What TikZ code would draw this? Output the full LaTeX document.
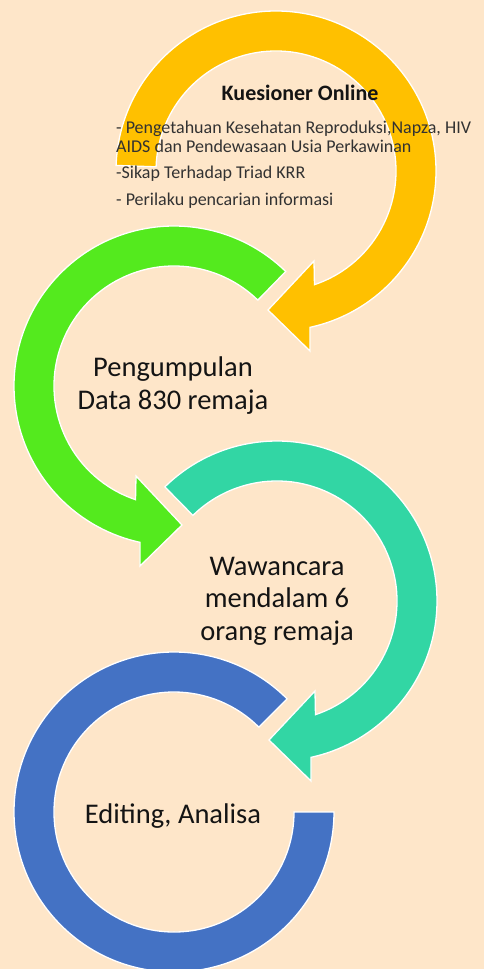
\documentclass[tikz,border=0pt]{standalone}
\usepackage{fontspec}
\setmainfont{Carlito}
\definecolor{bgpeach}{RGB}{254,230,201}
\definecolor{ringyellow}{RGB}{255,192,0}
\definecolor{ringgreen}{RGB}{84,234,30}
\definecolor{ringteal}{RGB}{50,214,164}
\definecolor{ringblue}{RGB}{68,114,196}
\definecolor{inktext}{RGB}{20,20,20}
\definecolor{inksoft}{RGB}{50,50,50}
\tikzset{
  ring/.style={draw=white, line width=1.3pt, line join=miter},
  biglabel/.style={font=\fontsize{28.5}{32.5}\selectfont, text=inktext, align=center, inner sep=0pt},
}
\begin{document}
\begin{tikzpicture}[x=1pt, y=-1pt]
  % page and background
  \fill[bgpeach] (0,0) rectangle (484,969);
  \useasboundingbox (0,0) rectangle (484,969);

  % yellow arrow: clockwise, head at the bottom pointing left
  \begin{scope}[shift={(276,171)}]
    \fill[ringyellow, ring] (182:160) arc[start angle=182, end angle=437.7, radius=160]
      -- (34,180) -- (-8,139) -- (38,90) -- (431.3:120)
      arc[start angle=431.3, end angle=182, radius=120] -- cycle;
  \end{scope}

  % green arrow: counter-clockwise, head at the bottom pointing right
  \begin{scope}[shift={(174,386)}]
    \fill[ringgreen, ring] (314.3:160) arc[start angle=314.3, end angle=102.3, radius=160]
      -- (-34,180) -- (8,139) -- (-38,90) -- (108.7:120)
      arc[start angle=108.7, end angle=314.3, radius=120] -- cycle;
  \end{scope}

  % teal arrow: clockwise, head at the bottom pointing left
  \begin{scope}[shift={(277,601)}]
    \fill[ringteal, ring] (225.5:160) arc[start angle=225.5, end angle=437.7, radius=160]
      -- (34,180) -- (-8,139) -- (38,90) -- (431.3:120)
      arc[start angle=431.3, end angle=225.5, radius=120] -- cycle;
  \end{scope}

  % blue open ring without a head
  \begin{scope}[shift={(174,812)}]
    \fill[ringblue, ring] (315:160) arc[start angle=315, end angle=0, radius=160]
      -- (0:120) arc[start angle=0, end angle=315, radius=120] -- cycle;
  \end{scope}

  % labels (anchor=base refers to the last line of a multi-line node)
  \node[font=\fontsize{22}{25}\selectfont\bfseries, text=inktext, anchor=base, inner sep=0pt]
    (kuesioner) at (300,100) {Kuesioner Online};
  \node[font=\fontsize{18}{19}\selectfont, text=inksoft, align=left, anchor=base west, inner sep=0pt]
    (items) at (116,205) {- Pengetahuan Kesehatan Reproduksi,Napza, HIV\\
      AIDS dan Pendewasaan Usia Perkawinan\\[7pt]
      -Sikap Terhadap Triad KRR\\[8pt]
      - Perilaku pencarian informasi};

  \node[biglabel, anchor=base] (pengumpulan) at (173,409) {Pengumpulan\\Data 830 remaja};
  \node[biglabel, anchor=base] (wawancara) at (277,640) {Wawancara\\mendalam 6\\orang remaja};
  \node[biglabel, anchor=base] (editing) at (173,823) {Editing, Analisa};
\end{tikzpicture}
\end{document}
